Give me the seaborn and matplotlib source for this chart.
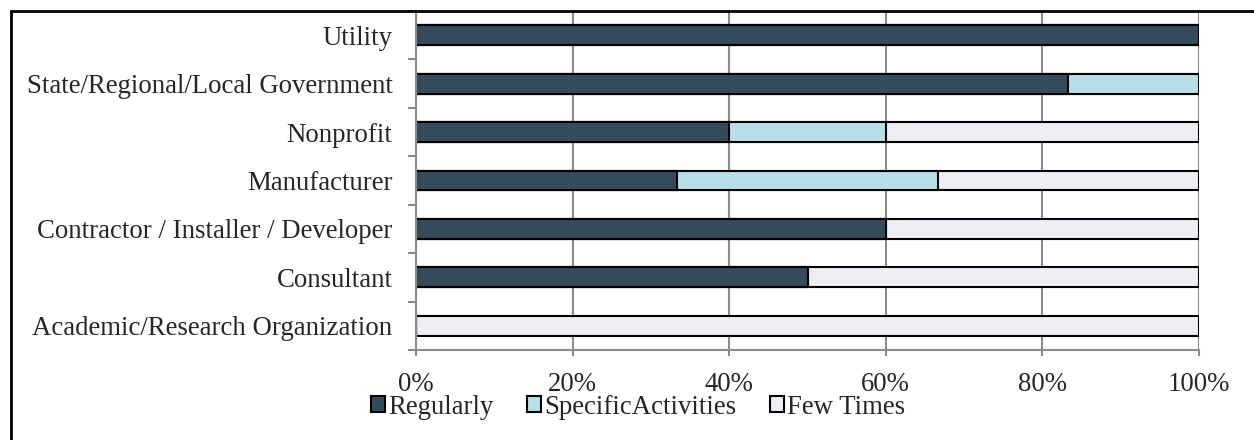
import pandas as pd
import numpy as np
import matplotlib
matplotlib.use('Agg')
import matplotlib.pyplot as plt
from matplotlib.patches import Rectangle, Patch
import seaborn as sns

categories = ['Utility', 'State/Regional/Local Government', 'Nonprofit', 'Manufacturer',
              'Contractor / Installer / Developer', 'Consultant', 'Academic/Research Organization']
regularly = [100.0, 83.3, 40.0, 33.3, 60.0, 50.0, 0.0]
specific = [0.0, 16.7, 20.0, 33.4, 0.0, 0.0, 0.0]
few_times = [0.0, 0.0, 40.0, 33.3, 40.0, 50.0, 100.0]
series_names = ['Regularly', 'SpecificActivities', 'Few Times']
colors = ['#344b5b', '#b7dfe8', '#f0edf4']

df = pd.DataFrame({'Category': categories, 'Regularly': regularly,
                   'SpecificActivities': specific, 'Few Times': few_times})
# cumulative ends for stacking
df['c1'] = df['Regularly']
df['c2'] = df['c1'] + df['SpecificActivities']
df['c3'] = df['c2'] + df['Few Times']

sns.set_style('white')
plt.rcParams['font.family'] = ['Liberation Serif', 'DejaVu Serif']
fs = 19.3

fig = plt.figure(figsize=(12.54, 4.4), dpi=100)
ax = fig.add_axes([416/1254, 1 - 350/440, (1199 - 416)/1254, (350 - 11)/440])

# draw from the longest cumulative layer down so each segment shows
for col, color in zip(['c3', 'c2', 'c1'], colors[::-1]):
    sns.barplot(data=df, x=col, y='Category', order=categories, color=color,
                edgecolor='black', linewidth=1.5, width=0.41, ax=ax, orient='h',
                saturation=1)

ax.set_xlim(0, 100)
ax.set_ylim(6.5, -0.5)
ax.set_xticks(np.arange(0, 101, 20))
ax.set_xticklabels([f'{v}%' for v in range(0, 101, 20)])
ax.set_xlabel('')
ax.set_ylabel('')
ax.xaxis.grid(True, color='#8c8c8c', linewidth=1.5)
ax.set_axisbelow(True)
for s in ['top', 'right']:
    ax.spines[s].set_visible(False)
for s in ['left', 'bottom']:
    ax.spines[s].set_color('#8c8c8c')
    ax.spines[s].set_linewidth(1.5)

ax.tick_params(axis='y', which='major', length=0, pad=17, labelsize=fs)
ax.set_yticks(np.arange(-0.5, 7, 1), minor=True)
ax.tick_params(axis='y', which='minor', length=6, color='#8c8c8c', width=1.5, direction='out', left=True)
ax.tick_params(axis='x', length=4, color='#8c8c8c', width=1.5, direction='out', bottom=True,
               pad=12, labelsize=fs)

handles = [Patch(facecolor=c, edgecolor='black', linewidth=1.5) for c in colors]
fig.legend(handles, series_names, loc='center left', bbox_to_anchor=(371/1254, 1 - 407/440),
           ncol=3, frameon=False, fontsize=fs, handlelength=0.52, handleheight=0.52,
           handletextpad=0.11, columnspacing=1.27, borderpad=0, borderaxespad=0)

# outer frame (right and bottom sides fall off the image)
fig.add_artist(Rectangle((10.5/1254, -0.2), 1.2, 1.2 - 10.5/440, transform=fig.transFigure,
                         fill=False, edgecolor='black', linewidth=2, clip_on=False))

fig.savefig('out.png', dpi=100)
